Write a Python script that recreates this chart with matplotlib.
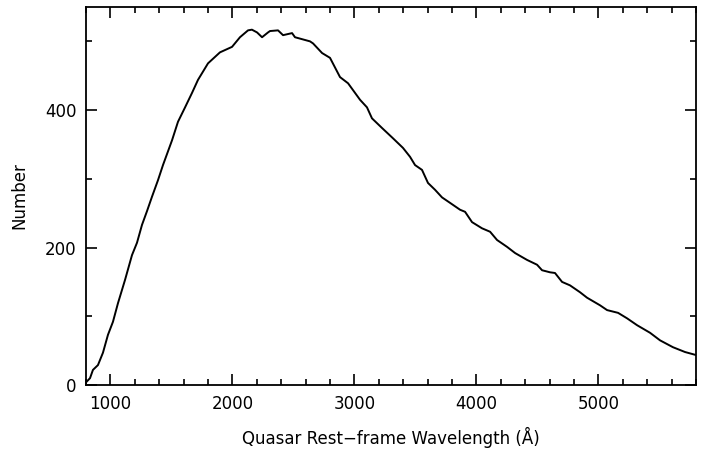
import matplotlib
matplotlib.use("Agg")
from matplotlib import pyplot as plt
from matplotlib.ticker import MultipleLocator

# wavelength (A) and number
wave = [806, 833, 857, 898, 939, 980, 1021, 1062, 1120, 1177, 1218, 1259, 1300,
        1341, 1390, 1431, 1505, 1554, 1612, 1669, 1718, 1800, 1898, 1997, 2062,
        2128, 2160, 2202, 2243, 2292, 2308, 2374, 2415, 2489, 2513, 2636, 2661,
        2735, 2800, 2882, 2948, 3046, 3103, 3144, 3226, 3316, 3398, 3456, 3497,
        3554, 3603, 3661, 3718, 3784, 3866, 3907, 3964, 4046, 4112, 4169, 4251,
        4317, 4415, 4497, 4538, 4603, 4644, 4702, 4767, 4849, 4907, 5013, 5071,
        5161, 5235, 5317, 5423, 5505, 5611, 5710, 5792]
number = [5, 10, 22, 29, 47, 73, 92, 119, 153, 189, 207, 233, 253,
          274, 298, 320, 356, 383, 404, 425, 444, 468, 484, 492, 506,
          516, 517, 513, 506, 513, 515, 516, 509, 512, 506, 500, 497,
          483, 476, 448, 439, 415, 404, 388, 374, 359, 345, 332, 320,
          313, 294, 284, 273, 265, 255, 252, 237, 228, 223, 211, 201,
          192, 182, 175, 167, 164, 163, 150, 145, 135, 127, 116, 109,
          105, 97, 87, 76, 65, 55, 48, 44]

plt.rcParams['font.family'] = ['DejaVu Sans']
fig = plt.figure(figsize=(7.02, 4.51), dpi=100)
ax = fig.add_axes([0.1225, 0.1463, 0.869, 0.8382])
ax.plot(wave, number, color='black', lw=1.4)

ax.set_xlim(800, 5800)
ax.set_ylim(0, 550)
ax.xaxis.set_major_locator(MultipleLocator(1000))
ax.xaxis.set_minor_locator(MultipleLocator(200))
ax.yaxis.set_major_locator(MultipleLocator(200))
ax.yaxis.set_minor_locator(MultipleLocator(100))
ax.tick_params(which='both', direction='in', top=True, right=True,
               labelsize=12, width=1.2, pad=7)
ax.tick_params(which='major', length=8)
ax.tick_params(which='minor', length=4)
for s in ax.spines.values():
    s.set_linewidth(1.3)

ax.set_xlabel("Quasar Rest\u2212frame Wavelength (\u00c5)", fontsize=12, labelpad=10)
ax.set_ylabel("Number", fontsize=12, labelpad=12)

fig.savefig("out.png", dpi=100)
